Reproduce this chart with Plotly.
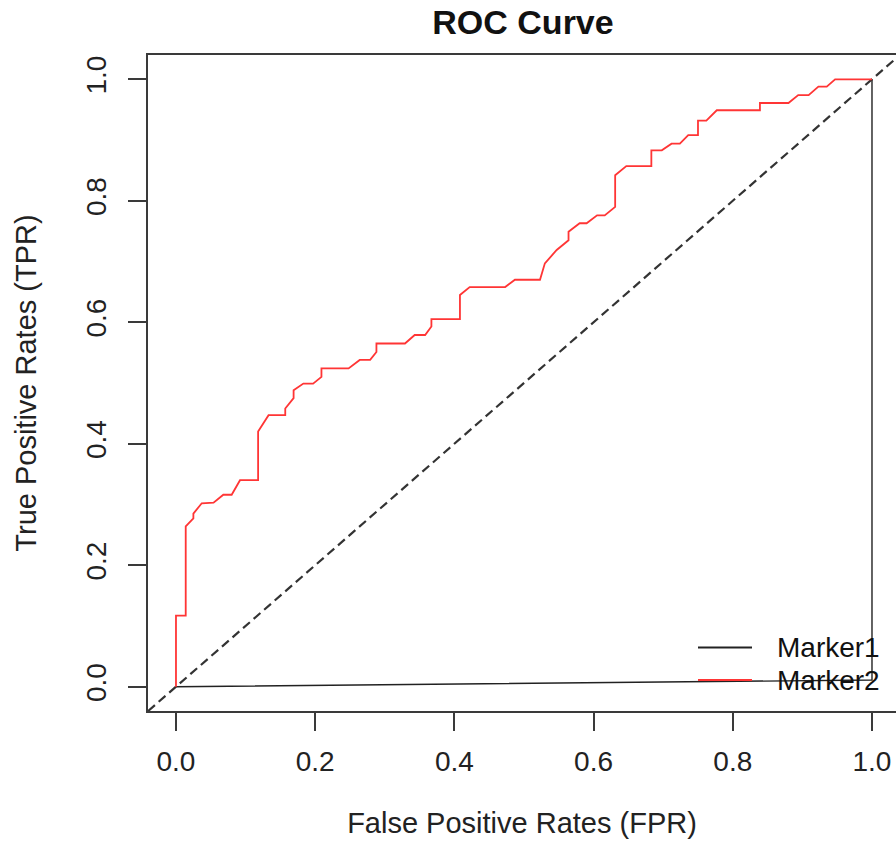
import plotly.graph_objects as go

# ---- data ----
tick_vals = [0.0, 0.2, 0.4, 0.6, 0.8, 1.0]
tick_text = ["0.0", "0.2", "0.4", "0.6", "0.8", "1.0"]

series_names = ["Marker1", "Marker2"]
series_colors = ["#222222", "#ff3535"]

marker1_fpr = [0.0, 0.5, 1.0, 1.0]
marker1_tpr = [0.0, 0.005, 0.011, 1.0]

marker2_fpr = [0.0, 0.0, 0.014, 0.014, 0.025, 0.025, 0.037, 0.054, 0.068, 0.080,
               0.092, 0.118, 0.118, 0.133, 0.157, 0.157, 0.169, 0.169, 0.183, 0.197,
               0.209, 0.209, 0.248, 0.264, 0.279, 0.288, 0.288, 0.329, 0.343, 0.358,
               0.367, 0.367, 0.408, 0.408, 0.422, 0.473, 0.487, 0.523, 0.530, 0.547,
               0.564, 0.564, 0.580, 0.590, 0.605, 0.616, 0.631, 0.631, 0.647, 0.683,
               0.683, 0.698, 0.712, 0.724, 0.736, 0.750, 0.750, 0.762, 0.777, 0.839,
               0.839, 0.880, 0.894, 0.909, 0.923, 0.935, 0.947, 1.0]
marker2_tpr = [0.0, 0.117, 0.117, 0.264, 0.277, 0.285, 0.302, 0.303, 0.316, 0.316,
               0.340, 0.340, 0.420, 0.447, 0.447, 0.458, 0.475, 0.488, 0.499, 0.499,
               0.510, 0.524, 0.524, 0.538, 0.538, 0.551, 0.565, 0.565, 0.579, 0.579,
               0.593, 0.605, 0.605, 0.645, 0.658, 0.658, 0.670, 0.670, 0.697, 0.719,
               0.735, 0.749, 0.763, 0.763, 0.776, 0.776, 0.790, 0.842, 0.857, 0.857,
               0.883, 0.883, 0.894, 0.894, 0.908, 0.908, 0.932, 0.932, 0.949, 0.949,
               0.961, 0.961, 0.974, 0.974, 0.988, 0.988, 1.0, 1.0]

x_range = [-0.0402, 1.0345]
y_range = [-0.04, 1.04]

FONT = "Liberation Sans, Arial, Helvetica, sans-serif"
AXIS_COL = "#3a3a3a"
W, H = 896, 843
ML, MR, MT, MB = 148, 0, 55, 132
PW, PH = W - ML - MR, H - MT - MB

fig = go.Figure()
fig.add_trace(go.Scatter(x=marker1_fpr, y=marker1_tpr, mode="lines", name=series_names[0],
                         line=dict(color=series_colors[0], width=1.4), showlegend=False))
fig.add_trace(go.Scatter(x=marker2_fpr, y=marker2_tpr, mode="lines", name=series_names[1],
                         line=dict(color=series_colors[1], width=1.8), showlegend=False))

# diagonal reference (abline y = x) across the plotting region
fig.add_shape(type="line", xref="x", yref="y", x0=y_range[0], y0=y_range[0],
              x1=y_range[1], y1=y_range[1],
              line=dict(color="#333333", width=2.2, dash="9px,5px"), layer="below")

# legend (R style: long line swatch, no box)
leg_x0, leg_x1, leg_text_x = 698, 752, 775
leg_rows_y = [647.5, 680]
for name, col, py in zip(series_names, series_colors, leg_rows_y):
    yp = (H - MB - py) / PH
    fig.add_shape(type="line", xref="paper", yref="paper",
                  x0=(leg_x0 - ML) / PW, x1=(leg_x1 - ML) / PW, y0=yp, y1=yp,
                  line=dict(color=col, width=2))
    fig.add_annotation(xref="paper", yref="paper", x=(leg_text_x - ML) / PW, y=yp,
                       xanchor="left", yanchor="middle", text=name, showarrow=False,
                       font=dict(family=FONT, size=28, color="#111111"))

fig.update_layout(
    width=W, height=H,
    margin=dict(l=ML, r=MR, t=MT, b=MB),
    paper_bgcolor="white", plot_bgcolor="white",
    font=dict(family=FONT, size=28, color="#222222"),
    title=dict(text="<b>ROC Curve</b>", x=523 / W, xanchor="center",
               y=1 - 22 / H, yanchor="middle",
               font=dict(family=FONT, size=34, color="#111111")),
    showlegend=False,
    xaxis=dict(range=x_range, tickvals=tick_vals, ticktext=tick_text,
               showgrid=False, zeroline=False,
               showline=True, linecolor=AXIS_COL, linewidth=1.7, mirror=True,
               ticks="outside", ticklen=18, tickwidth=1.5, tickcolor=AXIS_COL,
               ticklabelstandoff=7,
               tickfont=dict(family=FONT, size=28, color="#222222"),
               title=dict(text="False Positive Rates (FPR)", standoff=36,
                          font=dict(family=FONT, size=29, color="#222222"))),
    yaxis=dict(range=y_range, tickvals=tick_vals, ticktext=tick_text,
               showgrid=False, zeroline=False,
               showline=True, linecolor=AXIS_COL, linewidth=1.7, mirror=False,
               ticks="outside", ticklen=18, tickwidth=1.5, tickcolor=AXIS_COL,
               tickangle=-90, ticklabelstandoff=11,
               tickfont=dict(family=FONT, size=28, color="#222222"),
               title=dict(text="True Positive Rates (TPR)", standoff=36,
                          font=dict(family=FONT, size=29, color="#222222"))),
)

fig.write_html("out.html", config={"displayModeBar": False},
               post_script="document.body.style.margin='0';")
